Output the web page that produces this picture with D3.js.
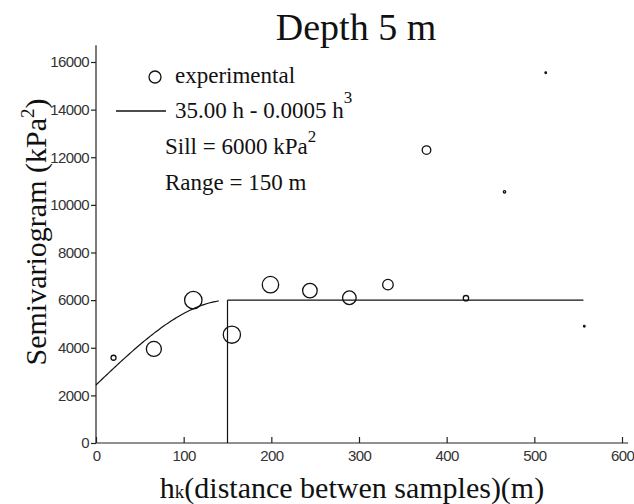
<!DOCTYPE html>
<html>
<head>
<meta charset="utf-8">
<script src="https://cdn.jsdelivr.net/npm/d3@7"></script>
<style>
  body { margin: 0; background: #fff; }
  svg { display: block; }
  .tick text { font-family: "Liberation Sans", Arial, sans-serif; font-size: 15px; fill: #333; letter-spacing: -0.6px; }
  .serif { font-family: "Liberation Serif", "Times New Roman", serif; fill: #111; }
</style>
</head>
<body>
<svg id="canvas" width="634" height="504"></svg>
<script>
/** Experimental semivariogram (lag distance in m, value in kPa^2) */
const lags = [20, 66, 111, 155, 199, 244, 289, 333, 377, 422, 466, 513, 557];
const gammas = [3580, 3950, 6000, 4550, 6650, 6400, 6100, 6650, 12300, 6080, 10550, 15550, 4900];
/** Relative weight of each lag (drawn as marker size) */
const weights = [2.5, 7.5, 8.7, 8.6, 8.2, 7.3, 6.8, 5.3, 4.3, 2.7, 1.2, 0.8, 0.8];

/** Fitted model: nugget + 35.00 h - 0.0005 h^3, sill 6000, range 150 */
const nugget = 2437.5;
const coefA = 35.0;
const coefB = 0.0005;
const sill = 6000;
const range = 150;
const modelEnd = 140;
const sillEnd = 556;

const xTicks = [0, 100, 200, 300, 400, 500, 600];
const yTicks = [0, 2000, 4000, 6000, 8000, 10000, 12000, 14000, 16000];

const svg = d3.select('#canvas');

const x = d3.scaleLinear().domain([0, 600]).range([96, 622]);
const y = d3.scaleLinear().domain([0, 16000]).range([443, 62]);
const r = d3.scaleLinear().domain([0, 10]).range([0, 10]);

/** Axes */
const xAxis = svg.append('g')
    .attr('transform', `translate(0,${y(0)})`)
    .call(d3.axisBottom(x).tickValues(xTicks).tickFormat(d3.format('d')).tickSize(-6).tickPadding(7).tickSizeOuter(0));
xAxis.select('.domain').attr('d', `M${x(0)},0H${x(607)}`);

const yAxis = svg.append('g')
    .attr('transform', `translate(${x(0)},0)`)
    .call(d3.axisLeft(y).tickValues(yTicks).tickFormat(d3.format('d')).tickSize(5).tickPadding(2).tickSizeOuter(0));
yAxis.select('.domain').attr('d', `M0,${y(0)}V${y(16700)}`);

svg.selectAll('.domain, .tick line').attr('stroke', '#222').attr('stroke-width', 1.2);

/** Model curve */
const curve = d3.range(0, modelEnd + 1, 2).map(h => [h, nugget + coefA * h - coefB * h * h * h]);
svg.append('path')
    .datum(curve)
    .attr('fill', 'none')
    .attr('stroke', '#111')
    .attr('stroke-width', 1.2)
    .attr('d', d3.line().x(d => x(d[0])).y(d => y(d[1])));

/** Sill and range lines */
svg.append('line')
    .attr('x1', x(range)).attr('x2', x(sillEnd))
    .attr('y1', y(sill)).attr('y2', y(sill))
    .attr('stroke', '#111').attr('stroke-width', 1.2);
svg.append('line')
    .attr('x1', x(range)).attr('x2', x(range))
    .attr('y1', y(0)).attr('y2', y(sill))
    .attr('stroke', '#111').attr('stroke-width', 1.2);

/** Experimental points */
svg.selectAll('circle.pt')
    .data(lags)
    .enter()
    .append('circle')
    .attr('class', 'pt')
    .attr('cx', (d) => x(d))
    .attr('cy', (d, i) => y(gammas[i]))
    .attr('r', (d, i) => r(weights[i]))
    .attr('fill', 'none')
    .attr('stroke', '#111')
    .attr('stroke-width', 1.3);

/** Legend */
const leg = svg.append('g');
leg.append('circle').attr('cx', 155).attr('cy', 77).attr('r', 6)
    .attr('fill', 'none').attr('stroke', '#111').attr('stroke-width', 1.3);
leg.append('text').attr('class', 'serif').attr('x', 175).attr('y', 83)
    .style('font-size', '23px').text('experimental');
leg.append('line').attr('x1', 116).attr('x2', 166).attr('y1', 111).attr('y2', 111)
    .attr('stroke', '#111').attr('stroke-width', 1.5);
const t1 = leg.append('text').attr('class', 'serif').attr('x', 175).attr('y', 118).style('font-size', '23px');
t1.append('tspan').text('35.00 h - 0.0005 h');
t1.append('tspan').attr('dy', -15).style('font-size', '17px').text('3');
const t2 = leg.append('text').attr('class', 'serif').attr('x', 165).attr('y', 154).style('font-size', '23px');
t2.append('tspan').text('Sill = 6000 kPa');
t2.append('tspan').attr('dy', -12).style('font-size', '17px').text('2');
leg.append('text').attr('class', 'serif').attr('x', 165).attr('y', 190)
    .style('font-size', '23px').text('Range = 150 m');

/** Titles */
svg.append('text').attr('class', 'serif').attr('x', 356).attr('y', 40)
    .attr('text-anchor', 'middle').style('font-size', '38px').text('Depth 5 m');

const xl = svg.append('text').attr('class', 'serif').attr('x', 352).attr('y', 498)
    .attr('text-anchor', 'middle').style('font-size', '30px');
xl.append('tspan').text('h');
xl.append('tspan').style('font-size', '19px').text('k');
xl.append('tspan').text('(distance betwen samples)(m)');

const yl = svg.append('text').attr('class', 'serif')
    .attr('transform', 'translate(46,232) rotate(-90)')
    .attr('text-anchor', 'middle').style('font-size', '30px');
yl.append('tspan').text('Semivariogram (kPa');
yl.append('tspan').attr('dy', -12).style('font-size', '19px').text('2');
yl.append('tspan').attr('dy', 12).text(')');
</script>
</body>
</html>
